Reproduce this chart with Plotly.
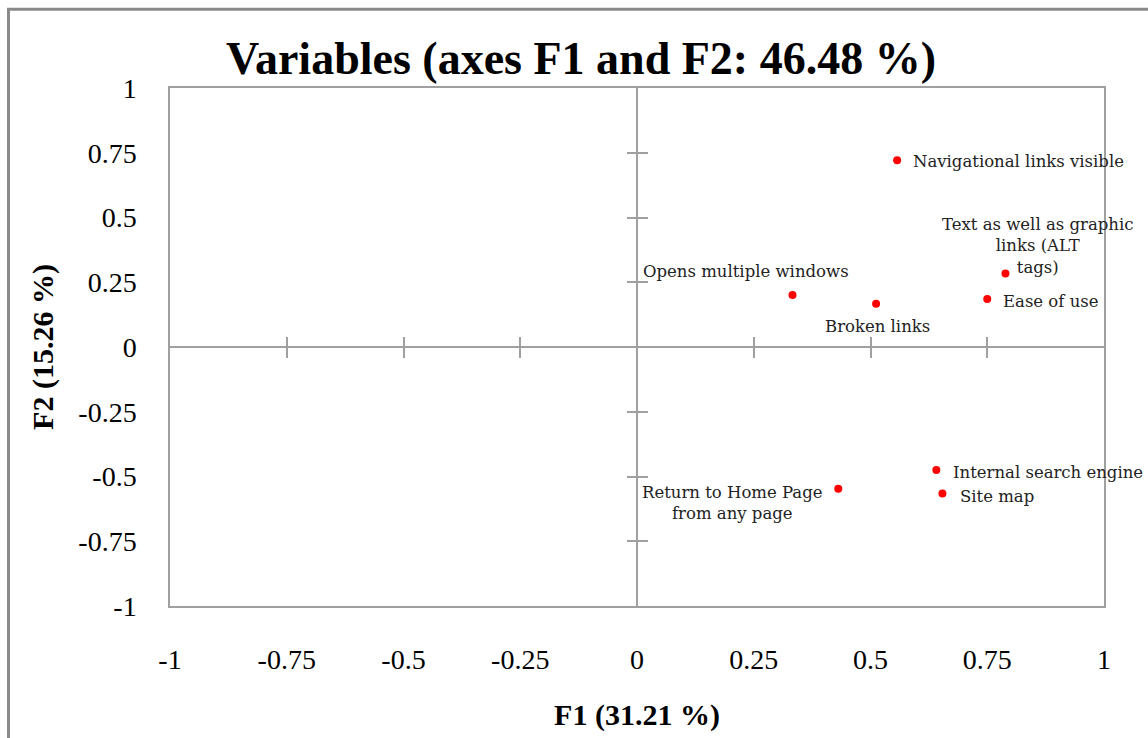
import plotly.graph_objects as go

# ---- data ----
variables = [
    "Navigational links visible",
    "Text as well as graphic<br>links (ALT<br>tags)",
    "Ease of use",
    "Opens multiple windows",
    "Broken links",
    "Internal search engine",
    "Site map",
    "Return to Home Page<br>from any page",
]
f1 = [0.557, 0.789, 0.750, 0.333, 0.512, 0.641, 0.654, 0.431]
f2 = [0.721, 0.284, 0.185, 0.201, 0.167, -0.475, -0.566, -0.547]
tick_vals = [-1, -0.75, -0.5, -0.25, 0, 0.25, 0.5, 0.75, 1]
tick_text = ["-1", "-0.75", "-0.5", "-0.25", "0", "0.25", "0.5", "0.75", "1"]
inner_ticks = [-0.75, -0.5, -0.25, 0.25, 0.5, 0.75]

# label placement (style): anchor, x shift, y shift in px
label_style = [
    ("left", 14, -1),
    ("center", 32, 27),
    ("left", 14, -2),
    ("center", -47, 23),
    ("center", 1, -23),
    ("left", 15, -2),
    ("left", 16, -3),
    ("center", -106, -14),
]

GRAY = "#a0a0a0"
SERIF = "Liberation Serif, Times New Roman, serif"

fig = go.Figure()
fig.add_trace(go.Scatter(
    x=f1, y=f2, mode="markers",
    marker=dict(color="#ff0000", size=8),
    hoverinfo="skip", showlegend=False,
))

for name, x, y, (anc, dx, dy) in zip(variables, f1, f2, label_style):
    fig.add_annotation(
        x=x, y=y, xref="x", yref="y", text=name, showarrow=False,
        xanchor=anc, yanchor="middle", xshift=dx, yshift=dy,
        font=dict(family="DejaVu Serif", size=16.5, color="#222222"),
        align="center",
    )

axis_common = dict(range=[-1, 1], showgrid=False)

fig.update_layout(
    width=1148, height=738,
    margin=dict(l=170, r=44, t=88, b=127),
    paper_bgcolor="white", plot_bgcolor="white",
    title=dict(
        text="<b>Variables (axes F1 and F2: 46.48 %)</b>",
        x=0.44, xref="paper", xanchor="center",
        y=1 - 58 / 738, yref="container", yanchor="middle",
        font=dict(family=SERIF, size=46, color="black"),
    ),
    xaxis=dict(
        **axis_common,
        tickvals=tick_vals, ticktext=tick_text, ticks="",
        tickfont=dict(family=SERIF, size=28, color="black"),
        ticklabelstandoff=28,
        showline=True, mirror=True, linecolor=GRAY, linewidth=1.5,
        zeroline=True, zerolinecolor=GRAY, zerolinewidth=1.5,
        title=dict(text="<b>F1 (31.21 %)</b>", standoff=30,
                   font=dict(family=SERIF, size=30, color="black")),
    ),
    yaxis=dict(
        **axis_common,
        tickvals=tick_vals, ticktext=tick_text, ticks="",
        tickfont=dict(family=SERIF, size=28, color="black"),
        ticklabelstandoff=26,
        showline=True, mirror=True, linecolor=GRAY, linewidth=1.5,
        zeroline=True, zerolinecolor=GRAY, zerolinewidth=1.5,
        title=dict(text="<b>F2 (15.26 %)</b>", standoff=16,
                   font=dict(family=SERIF, size=30, color="black")),
    ),
    # cross ticks on the zero lines
    xaxis2=dict(**axis_common, overlaying="x", anchor="free", position=0.5,
                side="bottom", tickvals=inner_ticks, showticklabels=False,
                ticks="outside", ticklen=10, tickcolor=GRAY, tickwidth=1.5,
                showline=False, zeroline=False),
    xaxis3=dict(**axis_common, overlaying="x", anchor="free", position=0.5,
                side="bottom", tickvals=inner_ticks, showticklabels=False,
                ticks="inside", ticklen=10, tickcolor=GRAY, tickwidth=1.5,
                showline=False, zeroline=False),
    yaxis2=dict(**axis_common, overlaying="y", anchor="free", position=0.5,
                side="left", tickvals=inner_ticks, showticklabels=False,
                ticks="outside", ticklen=10, tickcolor=GRAY, tickwidth=1.5,
                showline=False, zeroline=False),
    yaxis3=dict(**axis_common, overlaying="y", anchor="free", position=0.5,
                side="left", tickvals=inner_ticks, showticklabels=False,
                ticks="inside", ticklen=10, tickcolor=GRAY, tickwidth=1.5,
                showline=False, zeroline=False),
)

# invisible traces so the overlay axes are drawn
for xa, ya in [("x2", "y2"), ("x3", "y3")]:
    fig.add_trace(go.Scatter(x=[None], y=[None], xaxis=xa, yaxis=ya,
                             showlegend=False, hoverinfo="skip"))

# outer chart border (cropped at right/bottom in the reference)
fig.add_shape(type="rect", xref="paper", yref="paper",
              x0=-0.1729, y0=-0.5, x1=1.3, y1=1.152,
              line=dict(color="#8a8a8a", width=3), fillcolor="rgba(0,0,0,0)",
              layer="below")

fig.write_html("out.html")
